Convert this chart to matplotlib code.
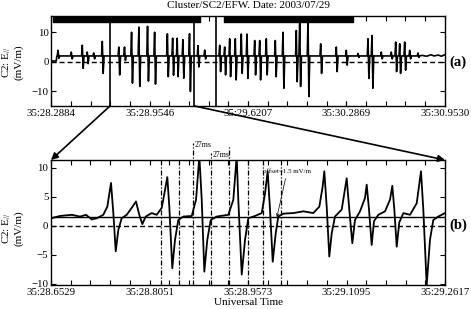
import matplotlib
matplotlib.use('Agg')
import matplotlib.pyplot as plt
from matplotlib.patches import ConnectionPatch
from matplotlib.ticker import AutoMinorLocator

plt.rcParams['font.family'] = ['Liberation Serif', 'DejaVu Serif']
plt.rcParams['mathtext.fontset'] = 'custom'
plt.rcParams['mathtext.rm'] = 'Liberation Serif'
plt.rcParams['mathtext.it'] = 'Liberation Serif:italic'

# ---- panel (a): full interval, seconds after 35 min ----
a_ticks = [28.2884, 28.9546, 29.6207, 30.2869, 30.9530]
a_ticklabels = ['35:28.2884', '35:28.9546', '35:29.6207', '35:30.2869', '35:30.9530']

# spikes: time, positive peak, negative trough (mV/m)
spike_t = [28.3338, 28.4239, 28.4984, 28.5322, 28.5756, 28.6338,
           28.7456, 28.7842, 28.8321, 28.8816, 28.9403, 28.9882,
           29.0747, 29.1103, 29.1411, 29.1798, 29.2246,
           29.2820, 29.3274, 29.4290, 29.4628, 29.4967, 29.5346,
           29.5753, 29.6139, 29.6660, 29.6999, 29.7446, 29.8056,
           29.8577, 29.9478, 29.9708, 30.0270, 30.1130, 30.2187,
           30.2864, 30.3657, 30.4334, 30.4605, 30.5235, 30.5912,
           30.6210, 30.6481, 30.6820, 30.7158, 30.7720]
spike_peak = [3.9, 3.3, 5.6, 3.3, 3.0, 6.9,
              5.0, 5.0, 10.0, 11.7, 12.0, 10.0,
              9.5, 8.0, 8.0, 7.5, 9.5,
              5.5, 4.0, 5.6, 5.0, 7.8, 7.8,
              9.4, 9.4, 7.2, 7.2, 7.8, 7.2,
              10.0, 10.6, 14.0, 14.0, 6.1, 5.0,
              3.9, 2.8, 7.8, 8.9, 3.3, 3.3,
              6.7, 6.1, 6.7, 3.9, 3.0]
spike_trough = [1.2, 1.0, -2.2, -0.6, 1.0, -3.9,
                -4.4, 0.5, -7.2, -8.3, -6.5, -7.5,
                -5.0, -4.5, -5.0, -5.5, -10.0,
                -1.7, 1.0, -3.3, -4.4, -5.0, -6.1,
                -3.9, -5.6, -4.4, -6.1, -4.4, -5.0,
                -8.9, -6.7, -8.3, -11.7, -3.9, -3.3,
                -1.1, 1.5, -5.6, -8.9, 1.0, 1.0,
                -3.3, -3.9, -2.8, 1.0, 1.5]
a_base = 2.0
quiet_t = [28.2884, 28.3220, 28.3260, 30.8000, 30.8300, 30.8600, 30.8800, 30.9100, 30.9300, 30.9530]
quiet_v = [0.3, 0.3, 1.9, 2.2, 1.9, 2.4, 2.0, 2.3, 1.9, 2.4]

# top bars and marker lines of panel (a)
bar_spans = [(28.2990, 0.9965), (29.4580, 0.8737)]
marker_lines = [28.686, 29.258, 29.406]

# ---- panel (b): zoomed interval ----
b_ticks = [28.6529, 28.8051, 28.9573, 29.1095, 29.2617]
b_ticklabels = ['35:28.6529', '35:28.8051', '35:28.9573', '35:29.1095', '35:29.2617']
b_t = [28.6529, 28.6668, 28.6849, 28.6977, 28.7070, 28.7158, 28.7235, 28.7337,
       28.7399, 28.7456, 28.7492, 28.7529, 28.7569, 28.7621, 28.7699, 28.7776,
       28.7842, 28.7893, 28.7940, 28.7992, 28.8085, 28.8162, 28.8240, 28.8291,
       28.8326, 28.8357, 28.8403, 28.8445, 28.8496, 28.8573, 28.8703, 28.8770,
       28.8821, 28.8858, 28.8898, 28.8944, 28.8997, 28.9089, 28.9269, 28.9346,
       28.9398, 28.9423, 28.9476, 28.9527, 28.9578, 28.9681, 28.9785, 28.9836,
       28.9877, 28.9913, 28.9955, 29.0001, 29.0041, 29.0119, 29.0273, 29.0428,
       29.0582, 29.0675, 29.0727, 29.0752, 29.0789, 29.0829, 29.0866, 29.0917,
       29.1021, 29.1098, 29.1138, 29.1185, 29.1226, 29.1304, 29.1381, 29.1407,
       29.1443, 29.1484, 29.1520, 29.1587, 29.1690, 29.1767, 29.1803, 29.1834,
       29.1871, 29.1911, 29.1973, 29.2076, 29.2180, 29.2246, 29.2282, 29.2334,
       29.2385, 29.2436, 29.2514, 29.2566, 29.2617]
b_v = [1.3, 1.7, 1.9, 1.6, 1.9, 1.1, 1.3, 1.9,
       3.3, 7.4, 2.2, -4.4, -0.7, 1.3, 1.9, 3.1,
       4.2, 1.9, 0.3, 1.6, 2.2, 1.9, 3.1, 6.2,
       8.4, 3.3, -7.3, -2.4, 1.0, 1.6, 1.7, 4.5,
       12.0, 4.5, -7.9, -2.4, 1.0, 1.6, 1.9, 4.5,
       12.0, 4.5, -8.4, -2.4, 1.3, 1.7, 2.2, 5.6,
       9.4, 2.8, -6.2, -1.3, 1.6, 2.1, 2.2, 2.5,
       2.2, 3.3, 6.8, 9.4, 3.3, -5.3, -1.3, 1.6,
       2.8, 8.2, 2.8, -3.0, 1.0, 2.5, 4.8, 7.1,
       2.8, -3.3, 0.8, 1.9, 2.5, 4.5, 6.9, 2.8,
       -3.6, 0.6, 2.2, 1.9, 3.9, 9.4, 2.8, -10.2,
       -2.4, 1.0, 1.6, 1.9, 2.2]
offset = 1.5
# dash-dot pairs, 27 ms apart; tops of those that rise above the box
pair_lines = [28.8229, 28.8507, 28.8723, 28.9001, 28.9279, 28.9573, 28.9805, 29.0083]
pair_tops = [None, None, 14.25, 12.5, 14.0, None, None, None]

# build panel (a) trace
pts = list(zip(quiet_t, quiet_v))
for t, p, q in zip(spike_t, spike_peak, spike_trough):
    pts += [(t - 0.005, a_base), (t, p), (t + 0.006, q), (t + 0.012, a_base)]
pts.sort()
a_t = [p[0] for p in pts]
a_v = [p[1] for p in pts]

fig = plt.figure(figsize=(4.71, 3.09), dpi=100)
axa = fig.add_axes([0.1089, 0.657, 0.8353, 0.2913])
axb = fig.add_axes([0.1083, 0.0777, 0.8365, 0.4045])

dash = (0, (3.6, 2.2))
dashdot = (0, (4, 1.5, 1, 1.5))

# panel (a)
axa.axhline(0, color='k', lw=1.0, ls=dash)
for x in marker_lines:
    axa.axvline(x, color='k', lw=1.2)
axa.broken_barh(bar_spans, (13.4, 1.8), color='k')
axa.plot(a_t, a_v, color='k', lw=1.2)
axa.set_xlim(a_ticks[0], a_ticks[-1])
axa.set_ylim(-14.9, 15.5)
axa.set_xticks(a_ticks)
axa.set_xticklabels(a_ticklabels)
axa.set_yticks([-10, 0, 10])
axa.set_yticklabels(['\u221210', '0', '10'])

# panel (b)
axb.axhline(0, color='k', lw=1.0, ls=dash)
axb.axhline(offset, color='k', lw=1.0)
ylo, yhi = -10.2, 11.35
for x, top in zip(pair_lines, pair_tops):
    axb.plot([x, x], [ylo, top if top else yhi], color='k', lw=0.9, ls=dashdot, clip_on=False)
axb.plot(b_t, b_v, color='k', lw=1.3)
axb.set_xlim(b_ticks[0], b_ticks[-1])
axb.set_ylim(ylo, yhi)
axb.set_xticks(b_ticks)
axb.set_xticklabels(b_ticklabels)
axb.set_yticks([-10, -5, 0, 5, 10])
axb.set_yticklabels(['\u221210', '\u22125', '0', '5', '10'])
axb.text(28.8754, 13.9, '27ms', fontsize=5.5, va='center', ha='left')
axb.text(28.9032, 12.2, '27ms', fontsize=5.5, va='center', ha='left')
axb.annotate('offset=1.5 mV/m', xy=(29.002, offset), xytext=(28.9805, 9.3),
             fontsize=5, va='center', ha='left',
             arrowprops=dict(arrowstyle='->', lw=0.5, color='k', shrinkA=1, shrinkB=0))
axb.set_xlabel('Universal Time', fontsize=8, labelpad=1)

for ax in (axa, axb):
    ax.xaxis.set_minor_locator(AutoMinorLocator(5))
    ax.tick_params(which='both', direction='in', top=True, right=True,
                   length=3.5, width=0.8, labelsize=7.8, pad=2)
    for s in ax.spines.values():
        s.set_linewidth(1.0)

# zoom arrows
for xa, xb, yb in [(marker_lines[0], b_ticks[0], yhi), (marker_lines[1], b_ticks[-1], yhi)]:
    con = ConnectionPatch(xyA=(xa, -14.9), coordsA=axa.transData,
                          xyB=(xb, yb), coordsB=axb.transData,
                          arrowstyle='-|>', lw=1.2, color='k', mutation_scale=10)
    fig.add_artist(con)

fig.text(0.5265, 0.981, 'Cluster/SC2/EFW. Date: 2003/07/29', fontsize=8, ha='center', va='center')
for yc in (1 - 62 / 309, 1 - 228 / 309):
    fig.text(7 / 471, yc, 'C2: E$_{//}$', rotation=90, fontsize=8, ha='center', va='center')
    fig.text(19 / 471, yc, '(mV/m)', rotation=90, fontsize=8, ha='center', va='center')
fig.text(458 / 471, 1 - 62 / 309, '(a)', fontsize=10.5, fontweight='bold', ha='center', va='center')
fig.text(458 / 471, 1 - 225 / 309, '(b)', fontsize=10.5, fontweight='bold', ha='center', va='center')

fig.savefig('out.png', dpi=100)
